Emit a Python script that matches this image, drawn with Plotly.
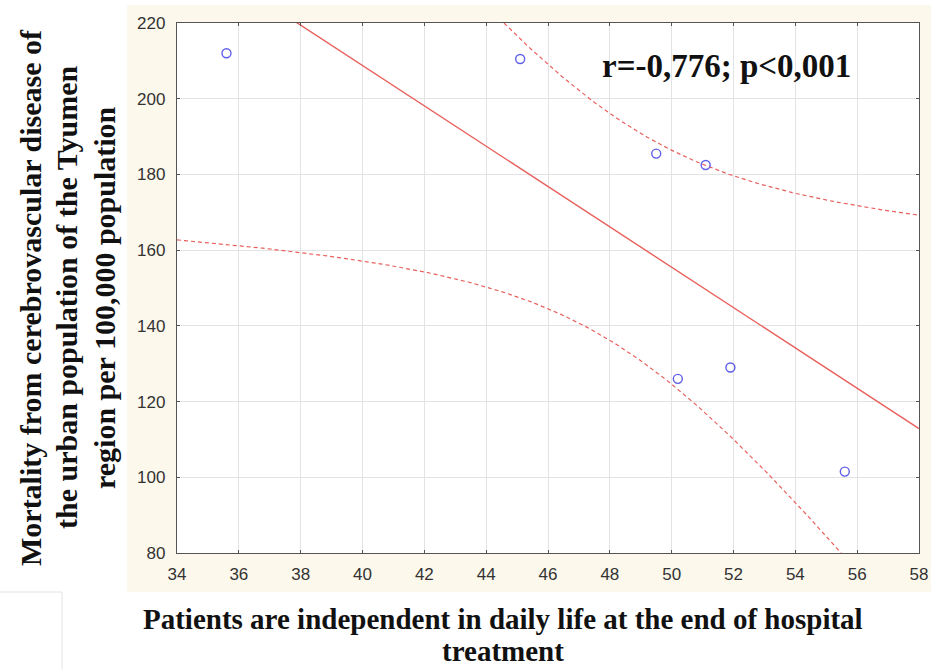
import numpy as np
import plotly.graph_objects as go

# Data
patients_independent = [35.6, 45.1, 49.5, 51.1, 50.2, 51.9, 55.6]
mortality = [212.0, 210.5, 185.5, 182.5, 126.0, 129.0, 101.5]
x_ticks = [34, 36, 38, 40, 42, 44, 46, 48, 50, 52, 54, 56, 58]
y_ticks = [80, 100, 120, 140, 160, 180, 200, 220]
stat_text = "r=-0,776; p<0,001"
y_title_lines = ["Mortality from cerebrovascular disease of",
                 "the urban population of the Tyumen",
                 "region per 100,000 population"]
x_title_lines = ["Patients are independent in daily life at the end of hospital",
                 "treatment"]

# Linear regression with 95% confidence band computed from the points
x = np.array(patients_independent)
y = np.array(mortality)
n = len(x)
slope, intercept = np.polyfit(x, y, 1)
resid = y - (slope * x + intercept)
s = np.sqrt(np.sum(resid ** 2) / (n - 2))
sxx = np.sum((x - x.mean()) ** 2)
t_crit = 2.5706  # t(0.975, df=5)
xs = np.linspace(34, 58, 200)
ys = slope * xs + intercept
se = s * np.sqrt(1 / n + (xs - x.mean()) ** 2 / sxx)
upper = ys + t_crit * se
lower = ys - t_crit * se

line_color = "#e8605c"
fig = go.Figure()
fig.add_trace(go.Scatter(x=xs, y=ys, mode="lines",
                         line=dict(color=line_color, width=1.4), showlegend=False))
fig.add_trace(go.Scatter(x=xs, y=upper, mode="lines",
                         line=dict(color=line_color, width=1.2, dash="4px,3px"), showlegend=False))
fig.add_trace(go.Scatter(x=xs, y=lower, mode="lines",
                         line=dict(color=line_color, width=1.2, dash="4px,3px"), showlegend=False))
fig.add_trace(go.Scatter(x=patients_independent, y=mortality, mode="markers",
                         marker=dict(symbol="circle-open", size=9, color="#5f5fe8",
                                     line=dict(width=1.4, color="#5f5fe8")),
                         showlegend=False))

W, H = 931, 669
L, R, T, B = 177, 12, 23, 116
pw, ph = W - L - R, H - T - B

def px(xp):
    return (xp - L) / pw

def py(yp):
    return (H - B - yp) / ph

# beige panel behind the chart, white plot area on top of it
fig.add_shape(type="rect", xref="paper", yref="paper", layer="below",
              x0=px(127), x1=px(931), y0=py(592), y1=py(5),
              fillcolor="#fdf8ec", line=dict(width=0))
fig.add_shape(type="rect", xref="paper", yref="paper", layer="below",
              x0=0, x1=1, y0=0, y1=1,
              fillcolor="white", line=dict(width=0))
fig.add_shape(type="line", xref="paper", yref="paper",
              x0=px(0), x1=px(62), y0=py(592), y1=py(592),
              line=dict(color="#e2e2e2", width=1))
fig.add_shape(type="line", xref="paper", yref="paper",
              x0=px(62), x1=px(62), y0=py(592), y1=py(669),
              line=dict(color="#e2e2e2", width=1))

serif = "Liberation Serif"
fig.add_annotation(text=stat_text, xref="paper", yref="paper",
                   x=px(726), y=py(66), xanchor="center", yanchor="middle",
                   showarrow=False,
                   font=dict(family=serif, size=33, color="#111", weight="bold"))
for line, cx in zip(y_title_lines, [30, 66, 104]):
    fig.add_annotation(text=line, xref="paper", yref="paper", x=px(cx), y=py(298),
                       xanchor="center", yanchor="middle",
                       textangle=-90, showarrow=False,
                       font=dict(family=serif, size=30, color="#111", weight="bold"))
for line, cy in zip(x_title_lines, [619, 651]):
    fig.add_annotation(text=line, xref="paper", yref="paper", x=px(503), y=py(cy),
                       xanchor="center", yanchor="middle",
                       showarrow=False,
                       font=dict(family=serif, size=29, color="#111", weight="bold"))

axis_common = dict(showgrid=True, gridcolor="#e3e3e3", gridwidth=1,
                   showline=True, linecolor="#555", linewidth=1.3, mirror="ticks",
                   ticks="inside", ticklen=3, tickcolor="#555", zeroline=False,
                   automargin=False,
                   tickfont=dict(family="Liberation Sans", size=17, color="#333"))
fig.update_xaxes(range=[34, 58], tickvals=x_ticks, ticklabelstandoff=5, **axis_common)
fig.update_yaxes(range=[80, 220], tickvals=y_ticks, ticklabelstandoff=7, **axis_common)

fig.update_layout(width=W, height=H, margin=dict(l=L, r=R, t=T, b=B),
                  paper_bgcolor="white", plot_bgcolor="white")
fig.write_html("out.html", config={"responsive": False})
